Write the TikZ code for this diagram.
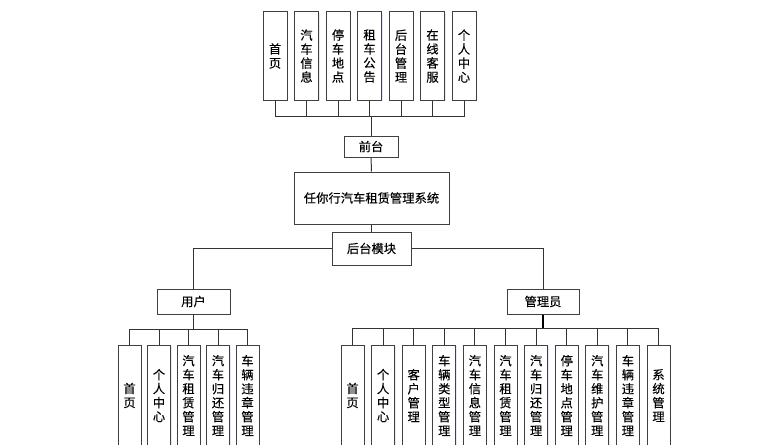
\documentclass[tikz,border=0pt]{standalone}
\usepackage{fontspec}
\newfontfamily\cjk[FakeBold=0.15]{Noto Sans CJK SC}
\usetikzlibrary{shadows}
\begin{document}
\begin{tikzpicture}[x=1pt,y=-1pt,
  box/.style={draw=black!75, line width=1pt, fill=white, inner sep=0pt,
    font=\cjk\fontsize{12.3}{14}\selectfont, align=center,
    drop shadow={opacity=0.12, shadow xshift=1pt, shadow yshift=-1pt, fill=blue!40!gray}},
  vbox/.style={box, minimum width=23pt},
  link/.style={draw=black!80, line width=1pt}]
\useasboundingbox (0,0) rectangle (775,444);
\clip (0,0) rectangle (775,444);
% top children
\foreach \t [count=\i from 0] in {首\\页,汽\\车\\信\\息,停\\车\\地\\点,租\\车\\公\\告,后\\台\\管\\理,在\\线\\客\\服,个\\人\\中\\心}{
  \node[vbox, minimum width=24pt, minimum height=88pt] (t\i) at (275+31.5*\i,56) {\t};
}
\node[box, minimum width=54pt, minimum height=21pt] (qt) at (371,146.5) {前台};
\node[box, minimum width=155pt, minimum height=52pt] (main) at (371.5,198) {任你行汽车租赁管理系统};
\node[box, minimum width=79pt, minimum height=33pt] (ht) at (371.5,248.5) {后台模块};
\node[box, minimum width=73pt, minimum height=25pt] (yh) at (193.5,301.5) {用户};
\node[box, minimum width=72pt, minimum height=25pt] (gly) at (543,301.5) {管理员};
% user children
\foreach \t [count=\i from 0] in {首\\页,个\\人\\中\\心,汽\\车\\租\\赁\\管\\理,汽\\车\\归\\还\\管\\理,车\\辆\\违\\章\\管\\理}{
  \node[vbox, minimum height=101pt] (u\i) at (129.5+29.5*\i,395.5) {\t};
}
% manager children
\foreach \t [count=\i from 0] in {首\\页,个\\人\\中\\心,客\\户\\管\\理,车\\辆\\类\\型\\管\\理,汽\\车\\信\\息\\管\\理,汽\\车\\租\\赁\\管\\理,汽\\车\\归\\还\\管\\理,停\\车\\地\\点\\管\\理,汽\\车\\维\\护\\管\\理,车\\辆\\违\\章\\管\\理,系\\统\\管\\理}{
  \node[vbox, minimum height=101pt] (m\i) at (352.5+30.6*\i,395.5) {\t};
}
% connectors
\foreach \i in {0,...,6}{
  \draw[link] (qt.north) -- (qt.north |- 0,116) -| (t\i.south);
}
\draw[link] (qt.south) -- (main.north);
\draw[link] (main.south) -- (ht.north);
\draw[link] (ht.west) -| (yh.north);
\draw[link] (ht.east) -| (gly.north);
\foreach \i in {0,...,4}{
  \draw[link] (yh.south) -- (yh.south |- 0,329) -| (u\i.north);
}
\foreach \i in {0,...,10}{
  \draw[link] (gly.south) -- (gly.south |- 0,328) -| (m\i.north);
}
\draw[draw=black, line width=2pt] (gly.south) -- (gly.south |- 0,328);
\end{tikzpicture}
\end{document}
